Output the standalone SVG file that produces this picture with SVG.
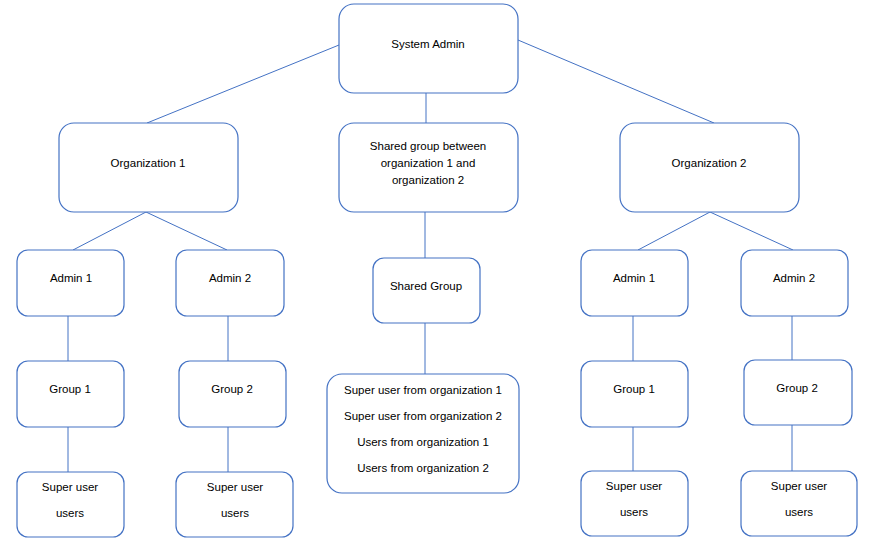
<svg xmlns="http://www.w3.org/2000/svg" width="872" height="545" viewBox="0 0 872 545">
<style>
.n rect{fill:#fff;stroke:#4472C4;stroke-width:1.2}
.c line{stroke:#4472C4;stroke-width:1}
text{font-family:"Liberation Sans",Arial,sans-serif;font-size:11.5px;fill:#000;text-anchor:middle}
</style>
<rect width="872" height="545" fill="#fff"/>
<g class="c" id="connectors">
<line x1="339" y1="45" x2="147" y2="123"/>
<line x1="518" y1="40" x2="714" y2="123"/>
<line x1="426" y1="93" x2="426" y2="123"/>
<line x1="146" y1="212" x2="73" y2="250"/>
<line x1="146" y1="212" x2="227" y2="250"/>
<line x1="68" y1="316" x2="68" y2="361"/>
<line x1="228" y1="316" x2="228" y2="361"/>
<line x1="68" y1="427" x2="68" y2="472"/>
<line x1="228" y1="427" x2="228" y2="472"/>
<line x1="425" y1="212" x2="425" y2="258"/>
<line x1="425" y1="323" x2="425" y2="374"/>
<line x1="710" y1="212" x2="638" y2="250"/>
<line x1="710" y1="212" x2="793" y2="250"/>
<line x1="633" y1="316" x2="633" y2="361"/>
<line x1="792" y1="316" x2="792" y2="360"/>
<line x1="633" y1="427" x2="633" y2="471"/>
<line x1="792" y1="425" x2="792" y2="471"/>
</g>
<g class="n" id="system-admin"><rect x="339" y="4" width="179" height="89" rx="15"/><text x="428" y="48">System Admin</text></g>
<g class="n" id="shared-between"><rect x="339" y="123" width="179" height="89" rx="15"/><text x="428" y="150">Shared group between</text><text x="428" y="167">organization 1 and</text><text x="428" y="184">organization 2</text></g>
<g class="n" id="org1"><rect x="59" y="123" width="179" height="89" rx="15"/><text x="148" y="167">Organization 1</text></g>
<g class="n" id="org2"><rect x="620" y="123" width="179" height="89" rx="15"/><text x="709" y="167">Organization 2</text></g>
<g class="n" id="o1-admin1"><rect x="17" y="250" width="107" height="66" rx="11"/><text x="71" y="282">Admin 1</text></g>
<g class="n" id="o1-admin2"><rect x="176" y="250" width="108" height="66" rx="11"/><text x="230" y="282">Admin 2</text></g>
<g class="n" id="o1-group1"><rect x="17" y="361" width="107" height="66" rx="11"/><text x="70" y="393">Group 1</text></g>
<g class="n" id="o1-group2"><rect x="179" y="361" width="107" height="66" rx="11"/><text x="232" y="393">Group 2</text></g>
<g class="n" id="o1-su1"><rect x="17" y="472" width="107" height="65" rx="11"/><text x="70" y="491">Super user</text><text x="70" y="517">users</text></g>
<g class="n" id="o1-su2"><rect x="176" y="472" width="117" height="65" rx="11"/><text x="235" y="491">Super user</text><text x="235" y="517">users</text></g>
<g class="n" id="shared-group"><rect x="373" y="258" width="107" height="65" rx="11"/><text x="426" y="290">Shared Group</text></g>
<g class="n" id="shared-members"><rect x="327" y="374" width="192" height="119" rx="15"/><text x="423" y="394">Super user from organization 1</text><text x="423" y="420">Super user from organization 2</text><text x="423" y="446">Users from organization 1</text><text x="423" y="472">Users from organization 2</text></g>
<g class="n" id="o2-admin1"><rect x="581" y="250" width="107" height="66" rx="11"/><text x="634" y="282">Admin 1</text></g>
<g class="n" id="o2-admin2"><rect x="741" y="250" width="107" height="66" rx="11"/><text x="794" y="282">Admin 2</text></g>
<g class="n" id="o2-group1"><rect x="581" y="361" width="107" height="66" rx="11"/><text x="634" y="393">Group 1</text></g>
<g class="n" id="o2-group2"><rect x="744" y="360" width="108" height="65" rx="11"/><text x="797" y="392">Group 2</text></g>
<g class="n" id="o2-su1"><rect x="581" y="471" width="107" height="65" rx="11"/><text x="634" y="490">Super user</text><text x="634" y="516">users</text></g>
<g class="n" id="o2-su2"><rect x="741" y="471" width="116" height="65" rx="11"/><text x="799" y="490">Super user</text><text x="799" y="516">users</text></g>
</svg>
